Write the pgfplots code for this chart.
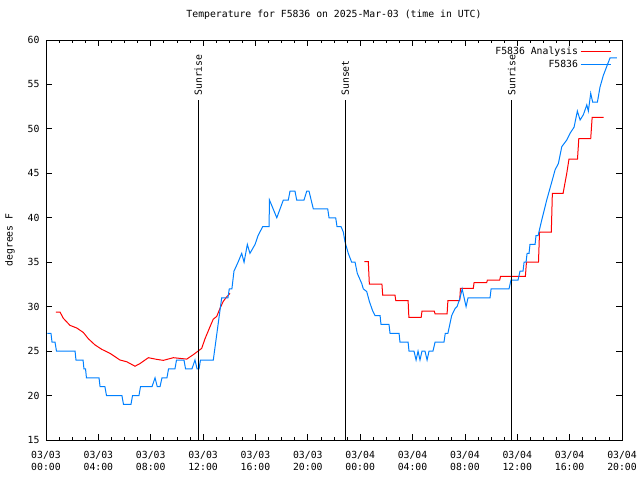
\documentclass[border=0pt]{standalone}
\usepackage{fontspec}
\setmainfont{DejaVu Sans Mono}
\usepackage{pgfplots}
\pgfplotsset{compat=1.18}
\definecolor{gpred}{RGB}{255,0,0}
\definecolor{gpblue}{RGB}{0,128,255}
\begin{document}
\begin{tikzpicture}
\begin{axis}[
  scale only axis, width=576pt, height=400pt,
  xmin=0, xmax=44, ymin=15, ymax=60,
  xtick={0,4,...,44},
  xticklabels={{03/03\\00:00},{03/03\\04:00},{03/03\\08:00},{03/03\\12:00},{03/03\\16:00},{03/03\\20:00},{03/04\\00:00},{03/04\\04:00},{03/04\\08:00},{03/04\\12:00},{03/04\\16:00},{03/04\\20:00}},
  minor x tick num=3,
  ytick={15,20,...,60},
  tick align=inside, tick pos=both,
  major tick length=6pt, minor tick length=3pt,
  every tick/.style={black, line width=0.8pt},
  axis line style={line width=0.9pt},
  font=\fontsize{9.8}{12}\selectfont,
  xticklabel style={align=center, yshift=-8pt},
  yticklabel style={xshift=-3pt},
  /pgf/number format/assume math mode=true,
  title={Temperature for F5836 on 2025-Mar-03 (time in UTC)},
  title style={at={(0.5,1)}, anchor=base, yshift=17pt},
  ylabel={degrees F},
  ylabel style={at={(axis description cs:-0.0625,0.5)}, anchor=center},
  legend style={at={(axis description cs:0.983,0.99)}, anchor=north east, draw=none, fill=none, inner sep=1pt, row sep=0pt, font=\fontsize{9.8}{12}\selectfont, /tikz/every odd column/.style={xshift=-2pt}},
  legend cell align=right, legend plot pos=right,
  legend image code/.code={\draw[#1] (0pt,0pt) -- (30pt,0pt);},
  unbounded coords=jump,
]
\addplot[gpred, line width=1pt] coordinates {
(0.76,29.4) (1.07,29.4) (1.32,28.7) (1.83,27.9) (2.35,27.6) (2.85,27.1) (3.23,26.4) (3.74,25.7) (4.26,25.2) (4.89,24.75) (5.65,24.0) (6.17,23.8) (6.8,23.3) (7.18,23.6) (7.82,24.26) (8.46,24.07) (8.96,23.96) (9.73,24.26) (10.75,24.1) (11.25,24.6) (11.89,25.3) (12.15,26.4) (12.53,27.75) (12.78,28.6) (13.04,28.9) (13.29,29.8) (13.54,30.6) (13.8,31.1) (14.06,31.5)
(18,nan)
(24.32,35.06) (24.62,35.06) (24.7,32.55) (25.66,32.55) (25.72,31.3) (26.66,31.3) (26.72,30.67) (27.66,30.67) (27.72,28.8) (28.66,28.8) (28.72,29.5) (29.66,29.5) (29.72,29.2) (30.64,29.2) (30.7,30.67) (31.6,30.67) (31.66,32.07) (32.64,32.07) (32.7,32.7) (33.66,32.7) (33.72,33.0) (34.66,33.0) (34.72,33.4) (36.62,33.4) (36.7,35.0) (37.62,35.0) (37.7,38.4) (38.6,38.4) (38.68,42.75) (39.5,42.75) (39.78,45) (39.95,46.6) (40.6,46.6) (40.7,48.9) (41.61,48.9) (41.72,51.3) (42.6,51.3)
};
\addlegendentry{F5836 Analysis}
\addplot[gpblue, line width=1pt] coordinates {
(0.1,27) (0.38,27) (0.46,26) (0.69,26) (0.8,25) (2.22,25) (2.29,24) (2.83,24) (2.9,23) (3.02,23) (3.09,22) (4.05,22) (4.13,21) (4.5,21) (4.62,20) (5.8,20) (5.92,19) (6.49,19) (6.61,20) (7.1,20) (7.22,21) (8.1,21) (8.33,22) (8.5,21) (8.71,21) (8.86,22) (9.24,22) (9.36,23) (9.85,23) (9.97,24) (10.54,24) (10.66,23) (11.15,23) (11.38,24) (11.54,23) (11.69,23) (11.8,24) (12.78,24) (13.42,31) (13.9,31) (14.0,32) (14.2,32) (14.36,34) (14.67,35) (14.95,36) (15.13,35) (15.38,37) (15.58,36) (15.97,37) (16.2,38) (16.55,39) (17.04,39) (17.07,42) (17.24,41.4) (17.63,40) (17.88,41) (18.13,42) (18.51,42) (18.64,43) (19.02,43) (19.15,42) (19.71,42) (19.92,43) (20.09,43) (20.42,41) (21.52,41) (21.62,40) (22.13,40) (22.23,39) (22.54,39) (22.71,38.4) (22.84,37.3) (23.09,36) (23.35,35) (23.61,35) (23.78,33.75) (24.12,32.6) (24.24,32) (24.5,31.7) (24.7,30.6) (24.96,29.5) (25.13,29) (25.52,29) (25.59,28) (26.2,28) (26.28,27) (26.97,27) (27.04,26) (27.66,26) (27.73,25) (28.11,25) (28.27,24) (28.42,25) (28.57,24) (28.72,25) (28.95,25) (29.11,24) (29.26,25) (29.56,25) (29.72,26) (30.4,26) (30.5,27) (30.7,27) (30.99,29) (31.25,29.8) (31.4,30) (31.63,31) (31.79,32) (31.94,31) (32.09,30) (32.24,31) (33.92,31) (34.0,32) (35.37,32) (35.52,33) (36.06,33) (36.21,34) (36.44,34) (36.52,35) (36.67,35) (36.75,36) (36.9,36) (36.97,37) (37.36,37) (37.43,38) (37.59,38) (37.87,39.75) (38.25,42) (38.63,44) (38.89,45.4) (39.14,46.1) (39.4,48) (39.78,48.75) (40.03,49.5) (40.34,50.2) (40.59,52) (40.8,51) (41.05,51.6) (41.31,52.7) (41.43,52) (41.61,54) (41.76,53) (42.12,53) (42.32,54.7) (42.57,56) (42.88,57.2) (43.09,58) (43.6,58)
};
\addlegendentry{F5836}
\addplot[black, line width=1pt, forget plot] coordinates {(11.63,15) (11.63,53.25)};
\addplot[black, line width=1pt, forget plot] coordinates {(22.86,15) (22.86,53.25)};
\addplot[black, line width=1pt, forget plot] coordinates {(35.58,15) (35.58,53.25)};
\node[rotate=90, anchor=west, inner sep=1pt] at (axis cs:11.63,53.6) {Sunrise};
\node[rotate=90, anchor=west, inner sep=1pt] at (axis cs:22.86,53.6) {Sunset};
\node[rotate=90, anchor=west, inner sep=1pt] at (axis cs:35.58,53.6) {Sunrise};
\coordinate (bl) at (rel axis cs:0,0);
\coordinate (tr) at (rel axis cs:1,1);
\end{axis}
\pgfresetboundingbox
\useasboundingbox ([shift={(-46pt,-40pt)}]bl) rectangle ([shift={(18pt,40pt)}]tr);
\end{tikzpicture}
\end{document}
